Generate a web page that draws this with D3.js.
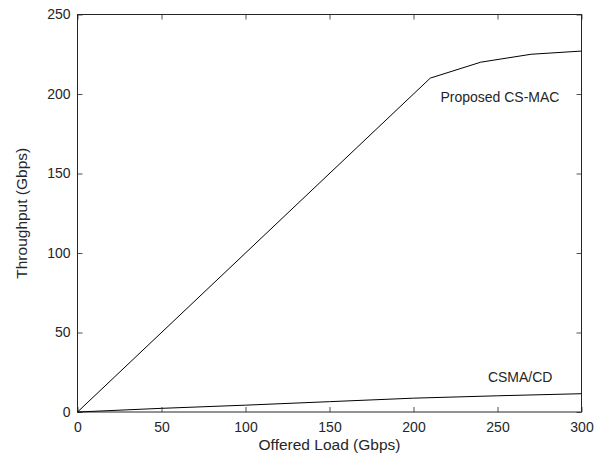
<!DOCTYPE html>
<html>
<head>
<meta charset="utf-8">
<script src="https://cdn.jsdelivr.net/npm/d3@7"></script>
<style>
  body { margin: 0; background: #fff; }
  text { font-family: "Liberation Sans", Arial, sans-serif; fill: #262626; }
</style>
</head>
<body>
<svg id="chart" width="603" height="457"></svg>
<script>
// data
var loadX = [0, 210, 240, 270, 300];
var csmacY = [0, 210, 220, 225, 227];
var csmaX = [0, 50, 100, 150, 200, 250, 300];
var csmaY = [0, 2.3, 4.3, 6.5, 8.7, 10.2, 11.5];
var xTicks = [0, 50, 100, 150, 200, 250, 300];
var yTicks = [0, 50, 100, 150, 200, 250];

var svg = d3.select("#chart"),
    margin = {top: 14.5, right: 21.5, bottom: 45, left: 77.5},
    width = +svg.attr("width") - margin.left - margin.right,
    height = +svg.attr("height") - margin.top - margin.bottom,
    g = svg.append("g").attr("transform", "translate(" + margin.left + "," + margin.top + ")");

var x = d3.scaleLinear().domain([0, 300]).range([0, width]);
var y = d3.scaleLinear().domain([0, 250]).range([height, 0]);

var axisColor = "#262626";

// box with inward ticks on all four sides
function styleAxis(sel) {
    sel.select(".domain").remove();
    sel.selectAll("line").attr("stroke", axisColor).attr("stroke-width", 0.8);
    sel.selectAll("text").style("font-size", "14px").attr("fill", axisColor);
}

g.append("g")
    .attr("transform", "translate(0," + height + ")")
    .call(d3.axisBottom(x).tickValues(xTicks).tickSizeInner(-5).tickPadding(10))
    .call(styleAxis);
g.append("g")
    .call(d3.axisTop(x).tickValues(xTicks).tickSizeInner(-5).tickFormat(""))
    .call(styleAxis);
g.append("g")
    .call(d3.axisLeft(y).tickValues(yTicks).tickSizeInner(-5).tickPadding(7))
    .call(styleAxis);
g.append("g")
    .attr("transform", "translate(" + width + ",0)")
    .call(d3.axisRight(y).tickValues(yTicks).tickSizeInner(-5).tickFormat(""))
    .call(styleAxis);

g.append("rect")
    .attr("width", width).attr("height", height)
    .attr("fill", "none").attr("stroke", axisColor).attr("stroke-width", 1);

var line = d3.line()
    .x(function(d) { return x(d[0]); })
    .y(function(d) { return y(d[1]); });

g.append("path")
    .datum(d3.zip(loadX, csmacY))
    .attr("d", line)
    .attr("fill", "none").attr("stroke", "#000").attr("stroke-width", 1);
g.append("path")
    .datum(d3.zip(csmaX, csmaY))
    .attr("d", line)
    .attr("fill", "none").attr("stroke", "#000").attr("stroke-width", 1);

// series labels
g.append("text")
    .attr("x", x(216)).attr("y", y(195.2))
    .style("font-size", "14px")
    .text("Proposed CS-MAC");
g.append("text")
    .attr("x", x(244.3)).attr("y", y(19))
    .style("font-size", "14px")
    .text("CSMA/CD");

// axis titles
svg.append("text")
    .attr("x", margin.left + width / 2).attr("y", 450)
    .attr("text-anchor", "middle")
    .style("font-size", "15.5px")
    .text("Offered Load (Gbps)");
svg.append("text")
    .attr("transform", "translate(27," + (margin.top + height / 2) + ") rotate(-90)")
    .attr("text-anchor", "middle")
    .style("font-size", "15.5px")
    .text("Throughput (Gbps)");
</script>
</body>
</html>
